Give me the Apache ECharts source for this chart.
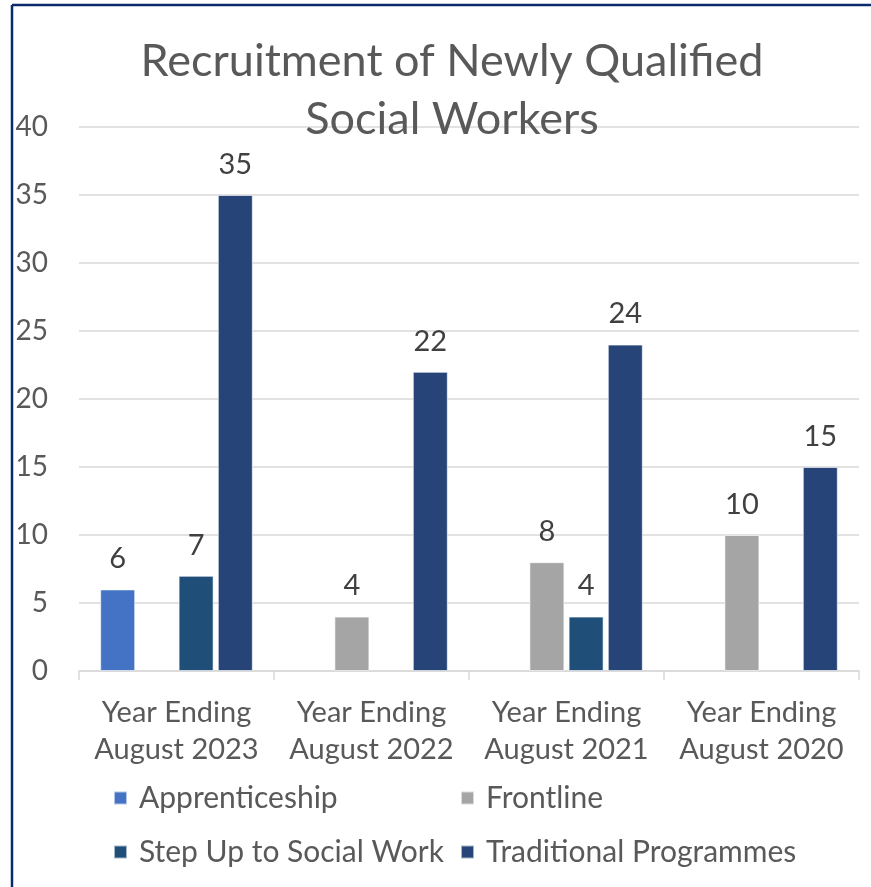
<!DOCTYPE html>
<html>
<head>
<meta charset="utf-8">
<script src="https://cdn.jsdelivr.net/npm/echarts@6/dist/echarts.min.js"></script>
<style>
html,body{margin:0;padding:0;background:#fff;}
#chart{width:871px;height:887px;}
</style>
</head>
<body>
<div id="chart"></div>
<script>
const categories = ['Year Ending\nAugust 2023', 'Year Ending\nAugust 2022', 'Year Ending\nAugust 2021', 'Year Ending\nAugust 2020'];
const apprenticeship = [6, null, null, null];
const frontline = [null, 4, 8, 10];
const stepUp = [7, null, 4, null];
const traditional = [35, 22, 24, 15];
const yTicks = [0, 5, 10, 15, 20, 25, 30, 35, 40];

const FONT = 'Lato, "Open Sans", sans-serif';
const chart = echarts.init(document.getElementById('chart'), null, {renderer: 'canvas'});

const labelStyle = {show: true, position: 'top', distance: 16, fontSize: 29, color: '#404040', fontFamily: FONT};
function mkSeries(name, data, color) {
  return {
    name: name, type: 'bar', data: data, barWidth: 35, barGap: '12%',
    itemStyle: {color: color, borderColor: 'rgba(255,255,255,0.6)', borderWidth: 1},
    label: labelStyle
  };
}
function mkLegend(name, left, top) {
  return {
    data: [name], left: left, top: top, padding: 0, itemWidth: 13, itemHeight: 13,
    icon: 'rect',
    textStyle: {fontSize: 30, color: '#595959', fontFamily: FONT, lineHeight: 34, padding: [0, 0, 0, 7]}
  };
}

chart.setOption({
  animation: false,
  backgroundColor: '#fff',
  title: {
    text: 'Recruitment of Newly Qualified\nSocial Workers',
    left: 447, top: 27, textAlign: 'center',
    textStyle: {fontSize: 45, fontWeight: 'normal', color: '#595959', fontFamily: FONT, lineHeight: 58}
  },
  grid: {left: 79, right: 12, top: 127, bottom: 216, containLabel: false},
  xAxis: {
    type: 'category', data: categories,
    axisLine: {lineStyle: {color: '#d9d9d9', width: 1.5}},
    axisTick: {show: true, interval: 0, length: 9, lineStyle: {color: '#d9d9d9', width: 1.5}},
    axisLabel: {interval: 0, hideOverlap: false, fontSize: 29, color: '#595959', fontFamily: FONT, lineHeight: 37, margin: 23}
  },
  yAxis: {
    type: 'value', min: 0, max: 40, interval: 5,
    axisLine: {show: false}, axisTick: {show: false},
    splitLine: {lineStyle: {color: '#d9d9d9', width: 1.5}},
    axisLabel: {fontSize: 28, color: '#595959', fontFamily: FONT, margin: 31,
      formatter: function(v){ return yTicks.indexOf(v) >= 0 ? String(v) : ''; }}
  },
  legend: [
    mkLegend('Apprenticeship', 113, 781),
    mkLegend('Frontline', 460, 781),
    mkLegend('Step Up to Social Work', 113, 835),
    mkLegend('Traditional Programmes', 460, 835)
  ],
  series: [
    mkSeries('Apprenticeship', apprenticeship, '#4472C4'),
    mkSeries('Frontline', frontline, '#A5A5A5'),
    mkSeries('Step Up to Social Work', stepUp, '#1F4E79'),
    mkSeries('Traditional Programmes', traditional, '#264478')
  ],
  graphic: [
    {type: 'line', shape: {x1: 12, y1: 5, x2: 871, y2: 5}, style: {stroke: '#0b2a6b', lineWidth: 2.5}, silent: true},
    {type: 'line', shape: {x1: 12, y1: 5, x2: 12, y2: 887}, style: {stroke: '#0b2a6b', lineWidth: 2.5}, silent: true}
  ]
});
</script>
</body>
</html>
